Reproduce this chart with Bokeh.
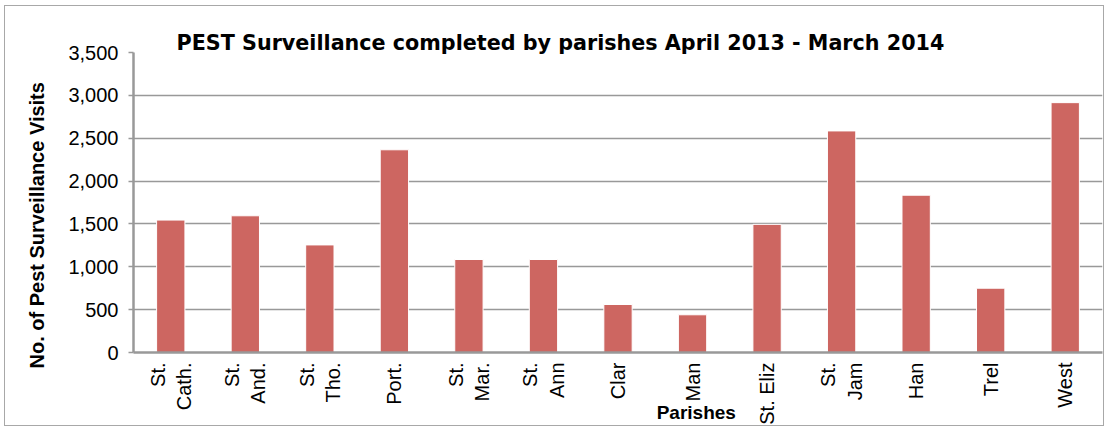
import math
from bokeh.plotting import figure
from bokeh.models import Range1d, SingleIntervalTicker, NumeralTickFormatter, Label, Title
from bokeh.embed import file_html
from bokeh.resources import INLINE

tick_labels = ["St.\nCath.", "St.\nAnd.", "St.\nTho.", "Port.", "St.\nMar.", "St.\nAnn",
               "Clar", "Man", "St. Eliz", "St.\nJam", "Han", "Trel", "West"]
visits = [1545, 1595, 1255, 2365, 1085, 1085, 560, 440, 1495, 2585, 1835, 750, 2915]
title_text = "PEST Surveillance completed by parishes April 2013 - March 2014"
y_title = "No. of Pest Surveillance Visits"
x_title = "Parishes"

FONT = "Liberation Sans"

p = figure(x_range=tick_labels, y_range=Range1d(0, 3500), width=1100, height=421,
           output_backend="svg", toolbar_location=None,
           min_border_left=128, min_border_right=3, min_border_top=46, min_border_bottom=60)
p.styles = {"margin-left": "4px", "margin-top": "5px", "border": "1px solid #a8a8a8"}

p.vbar(x=tick_labels, top=visits, width=0.38, fill_color="#cd6661", line_color="white", line_width=1)

p.title.text = title_text
p.title.align = "left"
p.title.offset = 43
p.title.vertical_align = "bottom"
p.title.standoff = -46
p.title.text_font = "DejaVu Sans"
p.title.text_font_size = "20.7px"
p.title.text_font_style = "bold"
p.title.text_color = "black"

p.outline_line_color = None
p.xgrid.grid_line_color = None
p.ygrid.grid_line_color = "#999999"
p.ygrid.grid_line_width = 1.5

p.yaxis.ticker = SingleIntervalTicker(interval=500)
p.yaxis.formatter = NumeralTickFormatter(format="0,0")
p.yaxis.minor_tick_line_color = None
p.yaxis.major_tick_out = 5
p.yaxis.major_tick_in = 0
p.yaxis.major_tick_line_color = "#999999"
p.yaxis.major_tick_line_width = 1.5
p.yaxis.axis_line_color = "#999999"
p.yaxis.axis_line_width = 2.5
p.yaxis.major_label_text_font = FONT
p.yaxis.major_label_text_font_size = "20px"
p.yaxis.major_label_text_color = "black"
p.yaxis.major_label_standoff = 10

ytitle = Title(text=y_title, align="left", offset=-16, vertical_align="middle", standoff=33,
               text_font=FONT, text_font_size="20px", text_font_style="bold", text_color="black")
p.add_layout(ytitle, "left")

p.xaxis.axis_line_color = "#999999"
p.xaxis.axis_line_width = 2.5
p.xaxis.major_tick_line_color = None
p.xaxis.major_tick_out = 0
p.xaxis.major_tick_in = 0
p.xaxis.minor_tick_line_color = None
p.xaxis.major_label_orientation = math.pi / 2
p.xaxis.major_label_text_font = FONT
p.xaxis.major_label_text_font_size = "20px"
p.xaxis.major_label_text_color = "black"
p.xaxis.major_label_standoff = 10

xlab = Label(x=7.55, y=-700, text=x_title, text_font=FONT, text_font_size="19px",
             text_font_style="bold", text_align="center", text_baseline="middle", text_color="black")
p.add_layout(xlab, "above")

open("out.html", "w").write(file_html(p, INLINE))
